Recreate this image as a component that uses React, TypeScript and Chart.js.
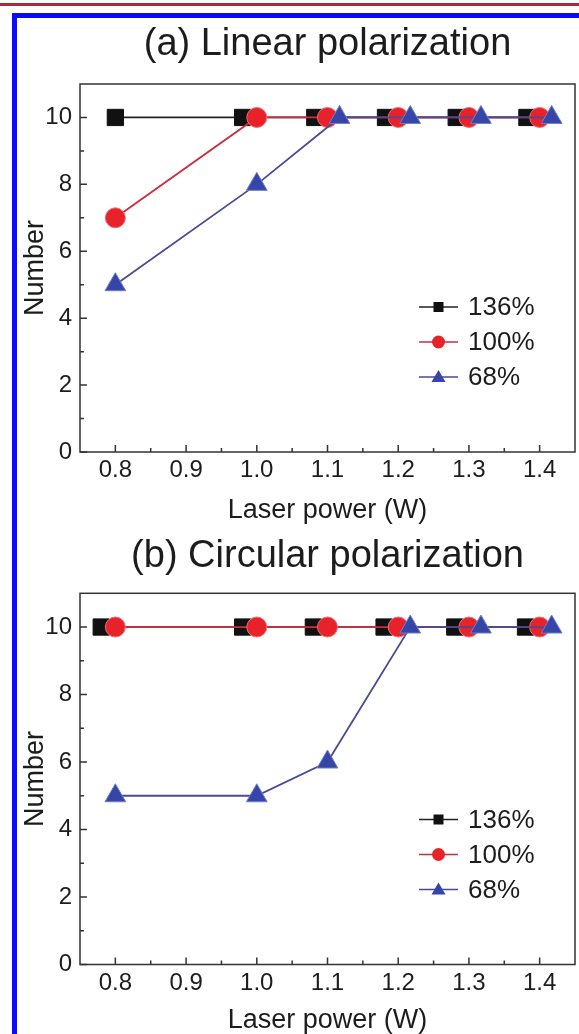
import React, { useEffect, useRef } from 'react';
import { Chart, registerables } from 'chart.js';

Chart.register(...registerables);

// ---- data ----
const X_TICKS = [0.8, 0.9, 1.0, 1.1, 1.2, 1.3, 1.4];
const X_MINOR = [0.85, 0.95, 1.05, 1.15, 1.25, 1.35];
const Y_TICKS = [0, 2, 4, 6, 8, 10];
const Y_MINOR = [1, 3, 5, 7, 9];
const SERIES_LABELS = ['136%', '100%', '68%'];

// (a) Linear polarization  (x slightly offset where markers overlap, as in the figure)
const A_136_X = [0.8, 0.98, 1.082, 1.182, 1.282, 1.382];
const A_136_Y = [10, 10, 10, 10, 10, 10];
const A_100_X = [0.8, 1.0, 1.1, 1.2, 1.3, 1.4];
const A_100_Y = [7, 10, 10, 10, 10, 10];
const A_68_X = [0.8, 1.0, 1.117, 1.217, 1.317, 1.417];
const A_68_Y = [5, 8, 10, 10, 10, 10];

// (b) Circular polarization
const B_136_X = [0.78, 0.98, 1.08, 1.18, 1.28, 1.38];
const B_136_Y = [10, 10, 10, 10, 10, 10];
const B_100_X = [0.8, 1.0, 1.1, 1.2, 1.3, 1.4];
const B_100_Y = [10, 10, 10, 10, 10, 10];
const B_68_X = [0.8, 1.0, 1.1, 1.217, 1.317, 1.417];
const B_68_Y = [5, 5, 6, 10, 10, 10];

const FONT = '"Liberation Sans", Arial, Helvetica, sans-serif';
const TEXT = '#1c1c1c';
const AXIS = '#333333';

const COLORS = {
  sq: { line: '#222222', fill: '#111111', border: '#111111' },
  ci: { line: '#cc2c40', fill: '#e8222a', border: '#f07070' },
  tr: { line: '#4a4a96', fill: '#3545a8', border: '#7080c8' },
};

const zip = (xs: number[], ys: number[]) => xs.map((x, i) => ({ x, y: ys[i] }));

const framePlugin = {
  id: 'frameTicks',
  beforeDatasetsDraw(chart: any) {
    const { ctx, chartArea, scales } = chart;
    const { left, right, top, bottom } = chartArea;
    const x = scales.x;
    const y = scales.y;
    ctx.save();
    ctx.strokeStyle = AXIS;
    ctx.lineWidth = 1.5;
    ctx.strokeRect(left, top, right - left, bottom - top);
    ctx.beginPath();
    X_TICKS.forEach((v) => {
      const p = x.getPixelForValue(v);
      ctx.moveTo(p, bottom);
      ctx.lineTo(p, bottom - 7);
    });
    X_MINOR.forEach((v) => {
      const p = x.getPixelForValue(v);
      ctx.moveTo(p, bottom);
      ctx.lineTo(p, bottom - 4);
    });
    Y_TICKS.forEach((v) => {
      const p = y.getPixelForValue(v);
      ctx.moveTo(left, p);
      ctx.lineTo(left + 7, p);
    });
    Y_MINOR.forEach((v) => {
      const p = y.getPixelForValue(v);
      ctx.moveTo(left, p);
      ctx.lineTo(left + 4, p);
    });
    ctx.stroke();
    ctx.restore();
  },
};

function drawMarker(ctx: CanvasRenderingContext2D, kind: string, cx: number, cy: number) {
  ctx.beginPath();
  if (kind === 'sq') {
    ctx.fillStyle = COLORS.sq.fill;
    ctx.fillRect(cx - 5, cy - 5, 10, 10);
    return;
  }
  if (kind === 'ci') {
    ctx.fillStyle = COLORS.ci.fill;
    ctx.arc(cx, cy, 6.5, 0, Math.PI * 2);
    ctx.fill();
    return;
  }
  ctx.fillStyle = COLORS.tr.fill;
  ctx.moveTo(cx, cy - 7);
  ctx.lineTo(cx + 7, cy + 5);
  ctx.lineTo(cx - 7, cy + 5);
  ctx.closePath();
  ctx.fill();
}

const legendPlugin = {
  id: 'inLegend',
  afterDatasetsDraw(chart: any) {
    const { ctx, chartArea } = chart;
    const { right, bottom } = chartArea;
    const rows = [145, 110, 75];
    const kinds = ['sq', 'ci', 'tr'];
    ctx.save();
    SERIES_LABELS.forEach((label, i) => {
      const cy = bottom - rows[i];
      const x0 = right - 156;
      const x1 = right - 117;
      const k = kinds[i] as 'sq' | 'ci' | 'tr';
      ctx.strokeStyle = COLORS[k].line;
      ctx.lineWidth = 1.6;
      ctx.beginPath();
      ctx.moveTo(x0, cy);
      ctx.lineTo(x1, cy);
      ctx.stroke();
      drawMarker(ctx, k, (x0 + x1) / 2, cy);
      ctx.fillStyle = TEXT;
      ctx.font = `26px ${FONT}`;
      ctx.textAlign = 'left';
      ctx.textBaseline = 'middle';
      ctx.fillText(label, right - 107, cy + 1);
    });
    ctx.restore();
  },
};

type PanelProps = {
  title: string;
  top: number;
  height: number;
  titlePad: { top: number; bottom: number };
  xAxisHeight: number;
  xTitlePadBottom: number;
  d136: { x: number; y: number }[];
  d100: { x: number; y: number }[];
  d68: { x: number; y: number }[];
};

function Panel(props: PanelProps) {
  const ref = useRef<HTMLCanvasElement | null>(null);
  useEffect(() => {
    if (!ref.current) return;
    const chart = new Chart(ref.current, {
      type: 'line',
      data: {
        datasets: [
          {
            label: SERIES_LABELS[0],
            data: props.d136,
            order: 3,
            borderColor: COLORS.sq.line,
            borderWidth: 1.8,
            pointStyle: 'rect',
            pointRadius: 11.5,
            pointBackgroundColor: COLORS.sq.fill,
            pointBorderColor: COLORS.sq.border,
            pointBorderWidth: 1,
            tension: 0,
          },
          {
            label: SERIES_LABELS[1],
            data: props.d100,
            order: 2,
            borderColor: COLORS.ci.line,
            borderWidth: 1.8,
            pointStyle: 'circle',
            pointRadius: 10,
            pointBackgroundColor: COLORS.ci.fill,
            pointBorderColor: COLORS.ci.border,
            pointBorderWidth: 1,
            tension: 0,
          },
          {
            label: SERIES_LABELS[2],
            data: props.d68,
            order: 1,
            borderColor: COLORS.tr.line,
            borderWidth: 1.8,
            pointStyle: 'triangle',
            pointRadius: 12,
            pointBackgroundColor: COLORS.tr.fill,
            pointBorderColor: COLORS.tr.border,
            pointBorderWidth: 1,
            tension: 0,
          },
        ],
      },
      options: {
        responsive: false,
        animation: false,
        clip: false as any,
        layout: { autoPadding: false, padding: { left: 0, right: 4, top: 0, bottom: 0 } },
        plugins: {
          legend: { display: false },
          tooltip: { enabled: false },
          title: {
            display: true,
            text: props.title,
            fullSize: false,
            color: TEXT,
            font: { size: 38, family: FONT, weight: 'normal', lineHeight: 1.2 },
            padding: props.titlePad,
          },
        },
        scales: {
          x: {
            type: 'linear',
            min: 0.75,
            max: 1.45,
            afterBuildTicks: (s: any) => {
              s.ticks = X_TICKS.map((value) => ({ value }));
            },
            afterFit: (s: any) => {
              s.height = props.xAxisHeight;
            },
            grid: { display: false, drawTicks: false },
            border: { display: false },
            ticks: {
              padding: 4,
              color: TEXT,
              autoSkip: false,
              maxRotation: 0,
              font: { size: 24, family: FONT, lineHeight: 1.2 },
              callback: (v: any) => Number(v).toFixed(1),
            },
            title: {
              display: true,
              text: 'Laser power (W)',
              color: TEXT,
              font: { size: 27, family: FONT, lineHeight: 1 },
              padding: { top: 0, bottom: props.xTitlePadBottom },
            },
          },
          y: {
            type: 'linear',
            min: 0,
            max: 11,
            afterBuildTicks: (s: any) => {
              s.ticks = Y_TICKS.map((value) => ({ value }));
            },
            afterFit: (s: any) => {
              s.width = 80;
            },
            grid: { display: false, drawTicks: false },
            border: { display: false },
            ticks: {
              padding: 8,
              color: TEXT,
              font: { size: 24, family: FONT, lineHeight: 1.2 },
              callback: (v: any) => String(v),
            },
            title: {
              display: true,
              text: 'Number',
              color: TEXT,
              font: { size: 27, family: FONT, lineHeight: 1 },
              padding: { top: 22, bottom: 0 },
            },
          },
        },
      },
      plugins: [framePlugin, legendPlugin],
    });
    return () => chart.destroy();
  }, []);
  return (
    <div style={{ position: 'absolute', left: 0, top: props.top, width: 579, height: props.height }}>
      <canvas ref={ref} width={579} height={props.height} style={{ display: 'block' }} />
    </div>
  );
}

export default function App() {
  return (
    <div
      style={{
        position: 'absolute',
        left: 0,
        top: 0,
        width: 579,
        height: 1034,
        background: '#ffffff',
        overflow: 'hidden',
      }}
    >
      <Panel
        title="(a) Linear polarization"
        top={0}
        height={540}
        titlePad={{ top: 22.2, bottom: 16.2 }}
        xAxisHeight={88}
        xTitlePadBottom={15.5}
        d136={zip(A_136_X, A_136_Y)}
        d100={zip(A_100_X, A_100_Y)}
        d68={zip(A_68_X, A_68_Y)}
      />
      <Panel
        title="(b) Circular polarization"
        top={515}
        height={519}
        titlePad={{ top: 19.2, bottom: 13.5 }}
        xAxisHeight={69.5}
        xTitlePadBottom={0}
        d136={zip(B_136_X, B_136_Y)}
        d100={zip(B_100_X, B_100_Y)}
        d68={zip(B_68_X, B_68_Y)}
      />
      <div style={{ position: 'absolute', left: 0, top: 3, width: 579, height: 3, background: '#a8283c' }} />
      <div style={{ position: 'absolute', left: 12, top: 13, width: 567, height: 5, background: '#0a0aff' }} />
      <div style={{ position: 'absolute', left: 12, top: 13, width: 5, height: 1021, background: '#0a0aff' }} />
    </div>
  );
}
